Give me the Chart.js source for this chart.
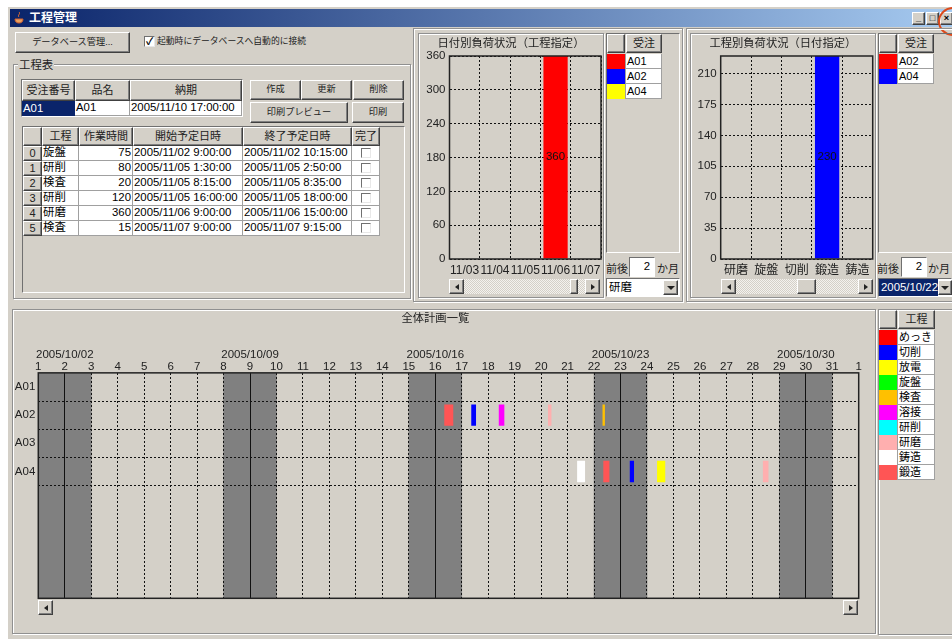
<!DOCTYPE html>
<html lang="ja"><head><meta charset="utf-8"><title>工程管理</title>
<script src="https://cdn.jsdelivr.net/npm/chart.js@4"></script>
<style>
html,body{margin:0;padding:0;background:#fff;width:952px;height:639px;overflow:hidden}
body{font:11.4px "Liberation Sans","Noto Sans CJK JP",sans-serif;color:#000;filter:blur(.3px)}
#app{position:absolute;left:0;top:0;width:952px;height:639px;overflow:hidden}
.b{position:absolute;box-sizing:border-box;white-space:nowrap;line-height:1;display:flex;align-items:center;overflow:hidden}
.win{background:#d4d0c8}
.tbar{background:linear-gradient(90deg,#0a246a,#a6caf0);color:#fff;font-weight:bold;font-size:12px;padding-left:19px}
.btn{background:#d4d0c8;border:1px solid;border-color:#fff #404040 #404040 #fff;box-shadow:inset -1px -1px 0 #808080;justify-content:center;font-size:9.2px;color:#222}
.hd{background:#d4d0c8;border:1px solid;border-color:#fff #404040 #404040 #fff;box-shadow:inset -1px -1px 0 #808080;justify-content:center;font-size:11px;color:#222}
.cell{background:#fff;border:1px solid #a0a0a0;border-width:0 1px 1px 0;padding:0 1px}
.r{justify-content:flex-end}.c{justify-content:center}
.sel{background:#0a246a;color:#fff}
.etch{border:1px solid #909090;box-shadow:inset 1px 1px 0 #fff,1px 1px 0 #fff}
.sunk{border:1px solid;border-color:#707070 #fff #fff #707070}
.chk{background:#fff;border:1px solid;border-color:#707070 #e8e8e8 #e8e8e8 #707070}
.track{background:repeating-conic-gradient(#f4f2ee 0 25%,#d4d0c8 0 50%) 0 0/2px 2px}
.t{font-size:11px;color:#222}
canvas{position:absolute;display:block}
</style></head><body><div id="app"></div>
<canvas id="c1" width="192" height="245" style="left:421px;top:33px"></canvas>
<canvas id="c2" width="192" height="245" style="left:693px;top:33px"></canvas>
<canvas id="c3" width="862" height="300" style="left:12px;top:309px"></canvas>
<script>
// ---- chart data ----
const dateLoadCategories = ['11/03','11/04','11/05','11/06','11/07'];
const dateLoadValues = [0,0,0,360,0];
const dateLoadTitle = '日付別負荷状況（工程指定）';
const processLoadCategories = ['研磨','旋盤','切削','鍛造','鋳造'];
const processLoadValues = [0,0,0,230,0];
const processLoadTitle = '工程別負荷状況（日付指定）';
const ganttTitle = '全体計画一覧';
const ganttRows = ['A01','A02','A03','A04','','','',''];
const dayTickLabels = [1,2,3,4,5,6,7,8,9,10,11,12,13,14,15,16,17,18,19,20,21,22,23,24,25,26,27,28,29,30,31,1];
const weekStartDays = [2,9,16,23,30];
const weekStartLabels = ['2005/10/02','2005/10/09','2005/10/16','2005/10/23','2005/10/30'];
const weekendSpans = [[1,3],[8,10],[15,17],[22,24],[29,31]];
// one value per row of ganttRows: [start day, end day]
const tanzo  = [null,[16.34,16.68],null,[22.35,22.58],null,null,null,null];
const sessaku= [null,[17.36,17.54],null,[23.35,23.51],null,null,null,null];
const yosetsu= [null,[18.40,18.61],null,null,null,null,null,null];
const kenma  = [null,[20.26,20.39],null,[28.38,28.59],null,null,null,null];
const kensa  = [null,[22.32,22.41],null,null,null,null,null,null];
const chuzo  = [null,null,null,[21.36,21.66],null,null,null,null];
const hoden  = [null,null,null,[24.38,24.69],null,null,null,null];
// ---- table / legend text ----
const orderHeaders = ['受注番号','品名','納期'];
const orderRow = ['A01','A01','2005/11/10 17:00:00'];
const stepHeaders = ['','工程','作業時間','開始予定日時','終了予定日時','完了'];
const stepNames = ['旋盤','研削','検査','研削','研磨','検査'];
const stepMinutes = [75,80,20,120,360,15];
const stepStarts = ['2005/11/02 9:00:00','2005/11/05 1:30:00','2005/11/05 8:15:00','2005/11/05 16:00:00','2005/11/06 9:00:00','2005/11/07 9:00:00'];
const stepEnds = ['2005/11/02 10:15:00','2005/11/05 2:50:00','2005/11/05 8:35:00','2005/11/05 18:00:00','2005/11/06 15:00:00','2005/11/07 9:15:00'];
const legend1Names = ['A01','A02','A04'];
const legend1Colors = ['#ff0000','#0000ff','#ffff00'];
const legend2Names = ['A02','A04'];
const legend2Colors = ['#ff0000','#0000ff'];
const legend3Names = ['めっき','切削','放電','旋盤','検査','溶接','研削','研磨','鋳造','鍛造'];
const legend3Colors = ['#ff0000','#0000ff','#ffff00','#00ff00','#ffc000','#ff00ff','#00ffff','#ffafaf','#ffffff','#ff5555'];

// ---- window chrome ----
const app = document.getElementById('app');
function box(x,y,w,h,cls,text,extra){
  const d=document.createElement('div');d.className='b '+(cls||'');
  d.style.cssText=`left:${x}px;top:${y}px;width:${w}px;height:${h}px;`+(extra||'');
  if(text!==undefined&&text!=='')d.textContent=text;app.appendChild(d);return d;
}
function arrow(x,y,w,h,dir){
  const d=box(x,y,w,h,'btn');d.style.justifyContent='center';
  const a=document.createElement('div');
  a.style.cssText= dir==='l'?'border:3px solid transparent;border-left-width:0;border-right:4px solid #222':
    dir==='r'?'border:3px solid transparent;border-right-width:0;border-left:4px solid #222':
    'border:4px solid transparent;border-bottom-width:0;border-top:4px solid #222';
  d.appendChild(a);
}
function scrollbar(x,w,thumbX,thumbW){
  box(x,279,w,15,'track');
  arrow(x,279,15,15,'l');arrow(x+w-15,279,15,15,'r');
  box(thumbX,279,thumbW,15,'btn');
}
function legend(x,y,nameW,head,names,colors){
  box(x,y,18,19,'hd');box(x+19,y,nameW,19,'hd',head);
  names.forEach((n,i)=>{
    box(x,y+20+i*15,18,15,'',undefined,`background:${colors[i]}`);
    box(x+18,y+20+i*15,nameW+1,15,'cell',n,'border:1px solid #a0a0a0;border-width:0 1px 1px 1px;font-size:11px');
  });
}
box(8,7,944,632,'win');
box(10,9,942,18,'tbar','工程管理');
const ic=box(13,11,12,14,'');ic.innerHTML='<svg width="12" height="14"><path d="M6 1c2 2-2 3 0 5M2 8h8c0 3-2 4-4 4s-4-1-4-4z" fill="#e8a060" stroke="#d06030"/></svg>';
box(912,12,13,13,'btn','_','font-weight:bold;color:#000');
box(926,12,13,13,'btn','□','color:#000');
box(940,12,13,13,'btn','×','color:#000;font-weight:bold');
box(938,7,30,29,'',undefined,'border:2px solid #dc4a1c;border-radius:50%');

box(15,32,115,21,'btn','データベース管理...');
box(144,36,11,11,'chk','✓','font-size:10px;justify-content:center;font-weight:bold');
box(157,34,170,15,'t','起動時にデータベースへ自動的に接続','font-size:8.8px');
box(13,64,398,235,'etch');
box(18,59,36,13,'win t','工程表','padding-left:1px;font-size:11.4px');
// order table
const ox=[22,75,130],ow=[53,55,112];
box(21,79,222,38,'',undefined,'background:#fff;border:1px solid;border-color:#707070 #fff #fff #707070');
orderHeaders.forEach((h,i)=>box(ox[i],80,ow[i],21,'hd',h));
orderRow.forEach((v,i)=>box(ox[i],101,ow[i],15,i===0?'sel':'cell',v,'padding:0 1px'));
box(250,80,51,20,'btn','作成');box(301,80,51,20,'btn','更新');box(353,80,51,20,'btn','削除');
box(250,102,98,21,'btn','印刷プレビュー');box(352,102,52,21,'btn','印刷');
// step table
box(22,126,383,167,'sunk');
const sx=[23,42,79,133,243,352],sw=[19,37,54,110,109,28];
stepHeaders.forEach((h,i)=>box(sx[i],127,sw[i],19,'hd',h));
stepNames.forEach((n,i)=>{
  const y=146+i*15;
  box(23,y,19,15,'hd',String(i));
  box(42,y,37,15,'cell',n);
  box(79,y,54,15,'cell r',String(stepMinutes[i]));
  box(133,y,110,15,'cell',stepStarts[i]);
  box(243,y,109,15,'cell',stepEnds[i]);
  box(352,y,28,15,'cell');
  box(361,y+2,10,10,'chk');
});
// chart panels
box(413,28,270,274,'etch');
box(418,33,186,265,'etch');
box(606,33,74,220,'sunk');
legend(607,34,36,'受注',legend1Names,legend1Colors);
box(606,261,24,16,'t','前後');box(629,257,26,20,'sunk r','2','background:#fff;padding-right:4px');box(657,261,24,16,'t','か月');
box(606,278,74,19,'sunk','研磨','background:#fff;padding-left:2px');arrow(663,280,15,15,'d');
scrollbar(449,151,570,8);

box(686,28,268,274,'etch');
box(690,33,186,265,'etch');
box(878,33,76,220,'sunk');
legend(879,34,36,'受注',legend2Names,legend2Colors);
box(877,261,24,16,'t','前後');box(901,257,26,20,'sunk r','2','background:#fff;padding-right:4px');box(928,261,24,16,'t','か月');
box(878,278,74,19,'sunk','','background:#fff');box(879,279,59,17,'sel','2005/10/22','padding-left:2px');arrow(938,280,14,15,'d');
scrollbar(721,152,797,19);

// bottom panels
box(12,309,864,325,'etch');
box(878,309,76,326,'etch');
legend(879,310,37,'工程',legend3Names,legend3Colors);
arrow(38,600,15,15,'l');arrow(843,600,15,15,'r');

// ---- charts ----
const FONT='"Liberation Sans","Noto Sans CJK JP",sans-serif';
const frame={id:'frame',afterDraw(ch){const a=ch.chartArea,c=ch.ctx;c.save();c.strokeStyle='#222';c.lineWidth=1.5;
  c.strokeRect(a.left,a.top,a.right-a.left,a.bottom-a.top);c.restore();}};
const valueLabel={id:'valueLabel',afterDatasetsDraw(ch){const c=ch.ctx,m=ch.getDatasetMeta(0),vals=ch.data.datasets[0].data;
  c.save();c.fillStyle='#111';c.font='11.5px '+FONT;c.textAlign='center';c.textBaseline='middle';
  m.data.forEach((el,i)=>{if(vals[i])c.fillText(String(vals[i]),el.x,(el.y+el.base)/2);});c.restore();}};
function loadChart(id,labels,values,color,title,yMax,step,leftW,rightPad){
  new Chart(document.getElementById(id),{type:'bar',
    data:{labels,datasets:[{data:values,backgroundColor:color,barPercentage:0.8,categoryPercentage:1}]},
    options:{responsive:false,animation:false,devicePixelRatio:1,
      layout:{padding:{right:rightPad}},
      plugins:{legend:{display:false},tooltip:{enabled:false},
        title:{display:true,text:title,color:'#222',font:{family:FONT,size:11.3,weight:'normal'},padding:{top:4,bottom:5.44}}},
      scales:{
        x:{grid:{color:'#111',drawTicks:false},border:{display:false,dash:[2,2]},
           ticks:{color:'#222',font:{family:FONT,size:12},padding:4,maxRotation:0,autoSkip:false},
           afterFit(s){s.height=19;}},
        y:{min:0,max:yMax,grid:{color:'#111',drawTicks:false},border:{display:false,dash:[2,2]},
           ticks:{stepSize:step,color:'#222',font:{family:FONT,size:11.5},padding:4,
             callback:v=>v%step===0?v:null},
           afterFit(s){s.width=leftW;}}
      }},plugins:[frame,valueLabel]});
}
loadChart('c1',dateLoadCategories,dateLoadValues,'#ff0000',dateLoadTitle,360,60,28.5,12);
loadChart('c2',processLoadCategories,processLoadValues,'#0000ff',processLoadTitle,230,35,27.7,12.3);

const weekendSets=weekendSpans.map(s=>({data:ganttRows.map(()=>s),backgroundColor:'#808080',barPercentage:1,categoryPercentage:1,order:5}));
const barSet=(d,col)=>({data:d,backgroundColor:col,barPercentage:0.76,categoryPercentage:1,order:1});
new Chart(document.getElementById('c3'),{type:'bar',
  data:{labels:ganttRows,datasets:[...weekendSets,
    barSet(tanzo,'#ff5555'),barSet(sessaku,'#0000ff'),barSet(yosetsu,'#ff00ff'),barSet(kenma,'#ffafaf'),
    barSet(kensa,'#ffc000'),barSet(chuzo,'#ffffff'),barSet(hoden,'#ffff00')]},
  options:{indexAxis:'y',responsive:false,animation:false,devicePixelRatio:1,
    layout:{padding:{right:15.3,bottom:10.7}},
    datasets:{bar:{grouped:false}},
    plugins:{legend:{display:false},tooltip:{enabled:false},
      title:{display:true,text:ganttTitle,color:'#222',font:{family:FONT,size:11.3,weight:'normal'},padding:{top:3,bottom:0}}},
    scales:{
      x:{type:'linear',position:'top',min:1,max:32,
        grid:{z:1,drawTicks:false,color:'#111'},
        border:{display:false,dash:c=>weekStartDays.includes(c.tick&&c.tick.value)?[]:[2,2]},
        ticks:{stepSize:1,autoSkip:false,maxRotation:0,padding:0,color:'#222',
          font:{family:FONT,size:11.5,lineHeight:1.04},
          callback(v){const i=weekStartDays.indexOf(v),d=String(dayTickLabels[v-1]);return i>=0?[weekStartLabels[i],d]:d;}},
        afterFit(s){s.height=47.3;}},
      y:{type:'category',
        grid:{z:1,drawTicks:false,color:c=>(c.index>=1&&c.index<=4)?'#111':'rgba(0,0,0,0)'},
        border:{display:false,dash:[2,2]},
        ticks:{color:'#222',font:{family:FONT,size:11.5},padding:3,autoSkip:false},
        afterFit(s){s.width=26.3;}}
    }},plugins:[frame]});
</script></body></html>
